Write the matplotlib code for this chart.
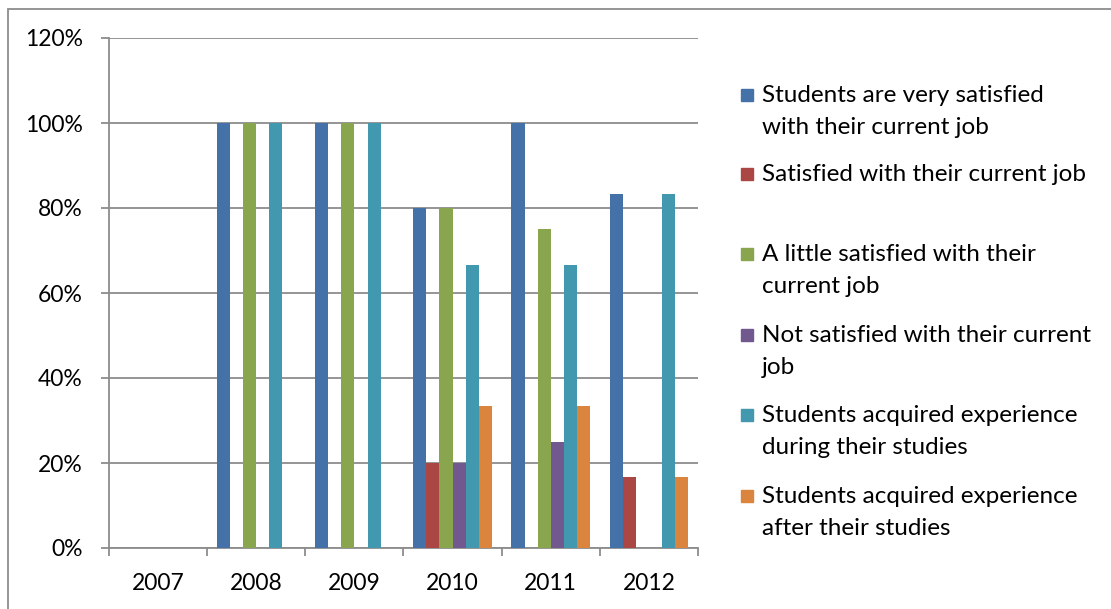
import numpy as np
import matplotlib
matplotlib.use("Agg")
import matplotlib.pyplot as plt
from matplotlib.patches import Rectangle

plt.rcParams['font.family'] = ['Lato', 'DejaVu Sans']

years = ["2007", "2008", "2009", "2010", "2011", "2012"]
series_names = [
    "Students are very satisfied\nwith their current job",
    "Satisfied with their current job",
    "A little satisfied with their\ncurrent job",
    "Not satisfied with their current\njob",
    "Students acquired experience\nduring their studies",
    "Students acquired experience\nafter their studies",
]
very_satisfied = [0, 100, 100, 80, 100, 83.3]
satisfied = [0, 0, 0, 20, 0, 16.7]
little_satisfied = [0, 100, 100, 80, 75, 0]
not_satisfied = [0, 0, 0, 20, 25, 0]
exp_during = [0, 100, 100, 66.7, 66.7, 83.3]
exp_after = [0, 0, 0, 33.3, 33.3, 16.7]

all_series = [very_satisfied, satisfied, little_satisfied, not_satisfied, exp_during, exp_after]
colors = ["#4472A8", "#AA4643", "#89A54E", "#71588F", "#4198AF", "#DB843D"]

fig = plt.figure(figsize=(11.11, 6.09), dpi=100)
ax = fig.add_axes([109 / 1111, 1 - 548 / 609, 589 / 1111, 510 / 609])

x = np.arange(len(years))
bw = 0.8 / len(all_series)
for i, (vals, c) in enumerate(zip(all_series, colors)):
    ax.bar(x - 0.4 + bw * (i + 0.5), vals, width=bw, color=c, zorder=3)

grid_c = "#8C8C8C"
ax.set_xlim(-0.5, len(years) - 0.5)
ax.set_ylim(0, 120)
ax.set_yticks(np.arange(0, 121, 20))
ax.set_yticklabels([f"{v}%" for v in range(0, 121, 20)], fontsize=16.5)
ax.yaxis.grid(True, color=grid_c, linewidth=1.3, zorder=0)
ax.set_xticks(x)
ax.set_xticklabels(years, fontsize=16.5)
ax.set_xticks(np.arange(-0.5, len(years)), minor=True)
ax.tick_params(axis="x", which="major", length=0, pad=18)
ax.tick_params(axis="x", which="minor", length=6, color=grid_c, width=1.3)
ax.tick_params(axis="y", length=6, color=grid_c, width=1.3, pad=13)
for s in ["top", "right"]:
    ax.spines[s].set_visible(False)
for s in ["left", "bottom"]:
    ax.spines[s].set_color(grid_c)
    ax.spines[s].set_linewidth(1.3)

# legend drawn by hand
W, H = 1111, 609
first_line_y = [95, 174, 254, 335, 415, 496]
for name, c, y in zip(series_names, colors, first_line_y):
    fig.patches.append(Rectangle((741 / W, 1 - (y + 6) / H), 12 / W, 12 / H,
                                 transform=fig.transFigure, color=c))
    fig.text(762 / W, 1 - (y - 10) / H, name, fontsize=17.5, va="top", ha="left",
             linespacing=1.65)

# outer border
fig.patches.append(Rectangle((8 / W, -0.05), 1.1, 1 - 9 / H + 0.05, transform=fig.transFigure,
                             fill=False, edgecolor="#8C8C8C", linewidth=1.3))

fig.savefig("out.png", dpi=100)
